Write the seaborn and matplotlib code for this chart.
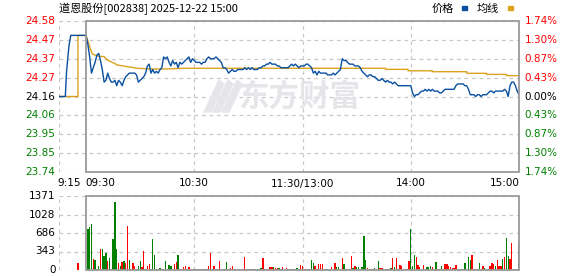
import matplotlib
matplotlib.use("Agg")
import matplotlib.pyplot as plt
import seaborn as sns
import numpy as np
from matplotlib.patches import Rectangle, Polygon

sns.set_theme(style="white")
plt.rcParams['font.family'] = ['DejaVu Sans', 'Noto Sans CJK SC']

# ---------------- data ----------------
title_text = "道恩股份[002838] 2025-12-22 15:00"
legend_price = "价格"
legend_avg = "均线"
watermark = "东方财富"
prev_close = 24.16
price_labels = ["24.58", "24.47", "24.37", "24.27", "24.16", "24.06", "23.95", "23.85", "23.74"]
pct_labels = ["1.74%", "1.30%", "0.87%", "0.43%", "0.00%", "0.43%", "0.87%", "1.30%", "1.74%"]
vol_labels = ["1371", "1028", "686", "343", "0"]
vol_max = 1371
x_labels = ["9:15", "09:30", "10:30", "11:30/13:00", "14:00", "15:00"]

pre_minutes = [-15, -11.5, -10.8, -9.5, -8.5]
pre_prices = [24.16, 24.16, 24.30, 24.44, 24.50]
pre_avg_minutes = [-15, -4.5, -4.5]
pre_avg = [24.16, 24.16, 24.50]

price = [
    24.50, 24.45, 24.38, 24.29, 24.32, 24.35, 24.39, 24.40, 24.36, 24.31,
    24.24, 24.25, 24.29, 24.26, 24.24, 24.24, 24.25, 24.22, 24.25, 24.24,
    24.22, 24.25, 24.27, 24.28, 24.29, 24.29, 24.29, 24.29, 24.28, 24.24,
    24.25, 24.26, 24.27, 24.29, 24.33, 24.34, 24.29, 24.31, 24.29, 24.30,
    24.29, 24.31, 24.32, 24.38, 24.37, 24.38, 24.35, 24.33, 24.36, 24.34,
    24.35, 24.32, 24.35, 24.34, 24.35, 24.36, 24.37, 24.38, 24.35, 24.37,
    24.36, 24.35, 24.35, 24.35, 24.34, 24.35, 24.35, 24.37, 24.38, 24.37,
    24.37, 24.37, 24.38, 24.37, 24.36, 24.35, 24.32, 24.32, 24.31, 24.29,
    24.30, 24.31, 24.30, 24.30, 24.31, 24.31, 24.31, 24.31, 24.32, 24.31,
    24.32, 24.31, 24.32, 24.31, 24.31, 24.31, 24.32, 24.32, 24.33, 24.33,
    24.34, 24.34, 24.35, 24.34, 24.34, 24.34, 24.33, 24.33, 24.32, 24.32,
    24.32, 24.32, 24.32, 24.33, 24.34, 24.33, 24.34, 24.33, 24.32, 24.33,
    24.33, 24.33, 24.34, 24.34, 24.33, 24.32, 24.29, 24.30, 24.28, 24.30,
    24.29, 24.29, 24.29, 24.29, 24.28, 24.28, 24.28, 24.29, 24.28, 24.29,
    24.30, 24.31, 24.37, 24.36, 24.36, 24.35, 24.34, 24.34, 24.34, 24.33,
    24.33, 24.33, 24.32, 24.30, 24.29, 24.28, 24.27, 24.28, 24.28, 24.27,
    24.27, 24.26, 24.25, 24.25, 24.26, 24.25, 24.24, 24.25, 24.24, 24.24,
    24.23, 24.24, 24.23, 24.22, 24.22, 24.22, 24.22, 24.22, 24.22, 24.22,
    24.22, 24.18, 24.16, 24.17, 24.17, 24.18, 24.19, 24.19, 24.20, 24.19,
    24.20, 24.19, 24.20, 24.19, 24.19, 24.19, 24.18, 24.18, 24.19, 24.20,
    24.20, 24.20, 24.20, 24.20, 24.20, 24.22, 24.23, 24.23, 24.23, 24.23,
    24.22, 24.22, 24.20, 24.17, 24.17, 24.17, 24.16, 24.17, 24.17, 24.16,
    24.17, 24.17, 24.17, 24.18, 24.19, 24.19, 24.18, 24.19, 24.19, 24.19,
    24.19, 24.19, 24.20, 24.19, 24.16, 24.22, 24.24, 24.24, 24.22, 24.19,
    24.17,
]

avg_minutes = [0, 1.7, 2.6, 3.5, 6.3, 10, 10.9, 11.8, 13.7, 15.5, 17.4, 22.9,
               28.5, 35.9, 43.3, 54.3, 166, 166, 178.5, 178.5, 192, 192,
               211, 211, 222, 222, 233, 233, 240]
avg_values = [24.50, 24.447, 24.419, 24.397, 24.385, 24.382, 24.372, 24.363,
              24.354, 24.345, 24.335, 24.326, 24.317, 24.313, 24.313, 24.317,
              24.317, 24.311, 24.311, 24.303, 24.303, 24.298, 24.298, 24.289,
              24.289, 24.283, 24.283, 24.276, 24.276]

auction_minute = -4.5
auction_vol = 136

vol = [
    760, 797, 858, 204, 185, 12, 74, 389, 389, 259,
    315, 173, 228, 15, 574, 1260, 389, 136, 74, 154,
    173, 136, 821, 185, 15, 136, 74, 15, 74, 167,
    50, 352, 15, 74, 111, 15, 574, 278, 15, 15,
    37, 15, 15, 167, 20, 93, 74, 15, 111, 154,
    278, 15, 15, 50, 74, 15, 50, 15, 15, 20,
    15, 20, 15, 20, 15, 15, 15, 74, 321, 15,
    74, 15, 12, 173, 15, 15, 15, 154, 15, 30,
    74, 15, 15, 20, 15, 15, 15, 241, 15, 12,
    15, 12, 20, 15, 12, 15, 37, 222, 15, 12,
    15, 50, 50, 50, 37, 30, 37, 20, 62, 15,
    30, 20, 12, 15, 15, 20, 37, 15, 93, 74,
    15, 12, 15, 15, 185, 136, 74, 15, 111, 111,
    111, 15, 15, 15, 15, 50, 20, 136, 50, 50,
    15, 222, 111, 15, 15, 15, 259, 30, 74, 50,
    50, 15, 50, 630, 185, 30, 15, 15, 15, 30,
    15, 167, 37, 37, 15, 15, 15, 25, 37, 222,
    50, 222, 15, 93, 74, 15, 15, 25, 167, 760,
    74, 278, 241, 93, 50, 15, 93, 15, 50, 50,
    74, 50, 15, 148, 15, 15, 74, 15, 111, 111,
    74, 50, 37, 37, 93, 15, 15, 15, 15, 130,
    20, 241, 185, 278, 15, 15, 15, 130, 15, 74,
    37, 15, 15, 74, 130, 111, 74, 185, 74, 74,
    204, 241, 593, 259, 204, 500, 15, 15, 15, 519,
]
vol_dir_rows = [
    "gggrgrgrgg", "grgrgggrgr", "grrgrrrrgg", "rrgrrgggrr",
    "ggrggggrrr", "ggrrrgrrrg", "rrggggrrrg", "rrgrggggrr",
    "rrrrgrrrrg", "grgrgggrrr", "rrrgrrggrr", "rgrrggggrr",
    "rrgrggrrrr", "rggggrgrgg", "rrgrrrrgrg", "grgggrrrrg",
    "rgrrgrrrgr", "grgrrrrrrg", "ggrrrrrrgg", "grrgrrgrrr",
    "rrrrrrgrgg", "gggrrrrgrr", "gggrrrgrrr", "grggrrrgrg",
]

# ---------------- layout helpers ----------------
W, H = 578, 276
fig = plt.figure(figsize=(W / 100, H / 100), dpi=100)
fig.patch.set_facecolor("white")


def fx(x):
    return x / W


def fy(y):
    return 1 - y / H


GRID = "#c8c8c8"
FRAME = "#9a9a9a"
RED = "#ff0000"
GREEN = "#008000"
BLUE = "#0a50a0"
ORANGE = "#dca21e"
WM = "#e6e6ea"
FS = 7.5

ymin, ymax = prev_close - 0.42, prev_close + 0.42
ax = fig.add_axes([fx(59), fy(172), fx(519) - fx(59), fy(21) - fy(172)])
axv = fig.add_axes([fx(59), fy(270), fx(519) - fx(59), fy(196) - fy(270)])

for a in (ax, axv):
    a.set_xlim(-15, 240)
    for s in a.spines.values():
        s.set_visible(False)
    a.set_xticks([])
    a.set_yticks([])
    a.patch.set_alpha(0)

ax.set_ylim(ymin, ymax)
axv.set_ylim(0, vol_max)

grid_levels = np.linspace(ymax, ymin, len(price_labels))
for lv in grid_levels:
    ax.hlines(lv, -15, 240, colors=GRID, linestyles=(0, (3, 3)), lw=0.9, zorder=1)
for xm in (-15, 60, 120, 180):
    ax.vlines(xm, ymin, ymax, colors=GRID, linestyles=(0, (3, 3)), lw=0.9, zorder=1)
ax.add_patch(Rectangle((0, ymin), 240, ymax - ymin, fill=False, ec=FRAME, lw=1.3,
                       clip_on=False, zorder=5))

vol_levels = np.linspace(vol_max, 0, len(vol_labels))
for lv in vol_levels:
    axv.hlines(lv, -15, 240, colors=GRID, linestyles=(0, (3, 3)), lw=0.9, zorder=1)
for xm in (-15, 60, 120, 180):
    axv.vlines(xm, 0, vol_max, colors=GRID, linestyles=(0, (3, 3)), lw=0.9, zorder=1)
axv.add_patch(Rectangle((0, 0), 240, vol_max, fill=False, ec=FRAME, lw=1.3,
                        clip_on=False, zorder=5))

# watermark (logo swoosh + name), drawn in figure pixels
def px_poly(points):
    return Polygon([(fx(x), fy(y)) for x, y in points], closed=True,
                   transform=fig.transFigure, color=WM, zorder=0)

for dx in (0, 9, 18):
    fig.patches.append(px_poly([(204 + dx, 112), (211 + dx, 112),
                                (224 + dx, 84), (219 + dx, 80)]))
fig.text(fx(299), fy(97), watermark, fontsize=22, fontweight="bold",
         family=["Noto Sans CJK SC"], color=WM, ha="center", va="center",
         zorder=0)

# lines
main_minutes = list(range(len(price)))
sns.lineplot(x=pre_minutes + main_minutes, y=pre_prices + price, ax=ax,
             color=BLUE, lw=1.0, estimator=None, sort=False, zorder=4)
sns.lineplot(x=pre_avg_minutes + avg_minutes, y=pre_avg + avg_values, ax=ax,
             color=ORANGE, lw=1.0, estimator=None, sort=False, zorder=3)
ax.set_xlim(-15, 240)
ax.set_ylim(ymin, ymax)
ax.set_xlabel("")
ax.set_ylabel("")

# volume bars
vol_dir = "".join(vol_dir_rows)
vm = list(range(1, len(vol) + 1))
cols = [RED if d == "r" else GREEN for d in vol_dir]
axv.bar(vm, vol, width=0.75, color=cols, lw=0, zorder=3)
axv.bar([auction_minute], [auction_vol], width=0.75, color=RED, lw=0, zorder=3)
axv.set_xlim(-15, 240)
axv.set_ylim(0, vol_max)

# y labels main
for i, lv in enumerate(grid_levels):
    ypx = 21 + i * (151 / 8)
    if i < 4:
        c = RED
    elif i == 4:
        c = "black"
    else:
        c = GREEN
    fig.text(fx(55.5), fy(ypx), price_labels[i], color=c, fontsize=FS,
             ha="right", va="center")
    fig.text(fx(524.5), fy(ypx), pct_labels[i], color=c, fontsize=FS,
             ha="left", va="center")

for i, lv in enumerate(vol_levels):
    ypx = 196 + i * (74 / 4)
    fig.text(fx(55.5), fy(ypx), vol_labels[i], color="black", fontsize=FS,
             ha="right", va="center")

# x labels
xl_pos = [(57, "left"), (85, "left"), (194, "center"), (302, "center"),
          (410.5, "center"), (519.5, "right")]
for (xp, ha), lab in zip(xl_pos, x_labels):
    fig.text(fx(xp), fy(183.5), lab, fontsize=FS, ha=ha, va="center", color="black")

# header
fig.text(fx(59), fy(9), title_text, fontsize=8, ha="left", va="center",
         family=["Noto Sans CJK SC", "DejaVu Sans"], color="black")
fig.text(fx(431.5), fy(9), legend_price, fontsize=8, ha="left", va="center",
         family=["Noto Sans CJK SC", "DejaVu Sans"], color="black")
fig.text(fx(476.5), fy(9), legend_avg, fontsize=8, ha="left", va="center",
         family=["Noto Sans CJK SC", "DejaVu Sans"], color="black")
fig.patches.append(Rectangle((fx(462), fy(9.5)), fx(4.5), 3.5 / H, color=BLUE,
                             transform=fig.transFigure, figure=fig))
fig.patches.append(Rectangle((fx(508), fy(9.5)), fx(4.5), 3.5 / H, color=ORANGE,
                             transform=fig.transFigure, figure=fig))

fig.savefig("out.png", dpi=100, facecolor="white")
